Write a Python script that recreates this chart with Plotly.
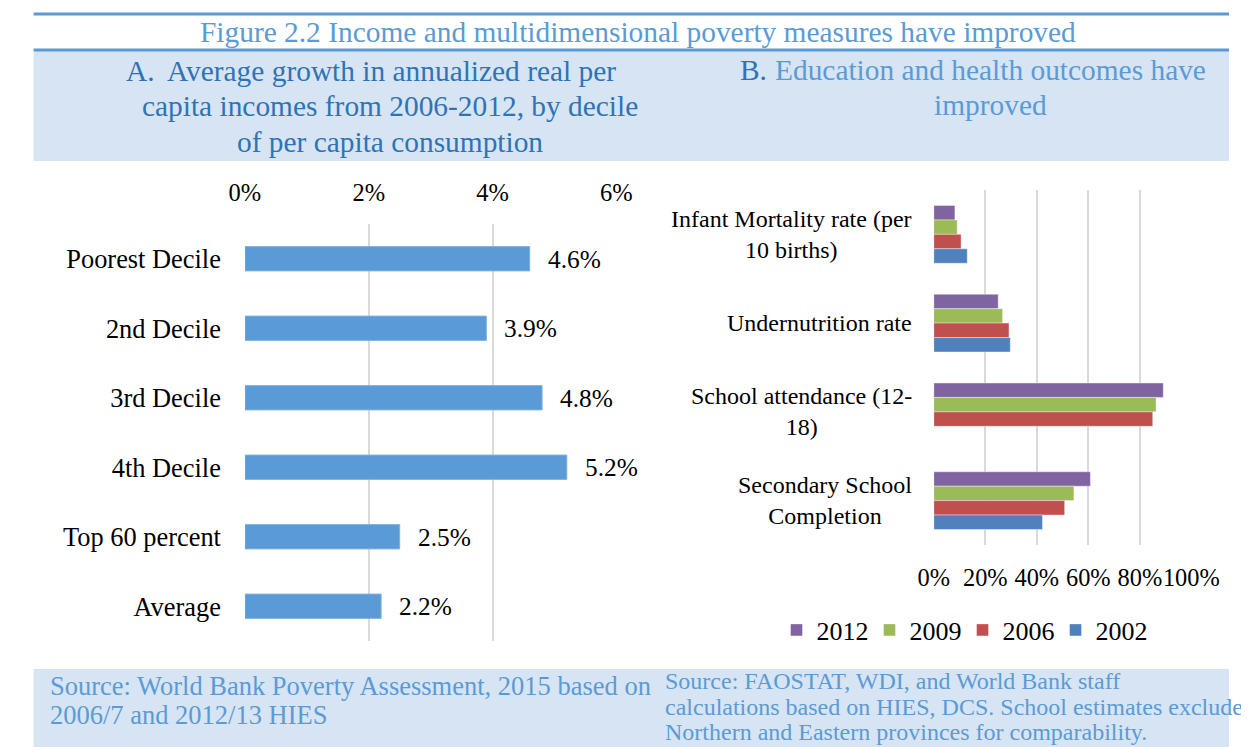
import plotly.graph_objects as go

W, H = 1249, 747

# panel A data
deciles = ["Poorest Decile", "2nd Decile", "3rd Decile", "4th Decile", "Top 60 percent", "Average"]
growth = [0.046, 0.039, 0.048, 0.052, 0.025, 0.022]

# panel B data
outcomes = ["Infant Mortality rate (per<br>10 births)", "Undernutrition rate",
            "School attendance (12-<br>18)", "Secondary School<br>Completion"]
years = ["2012", "2009", "2006", "2002"]
year_colors = ["#8064A2", "#9BBB59", "#C0504D", "#4F81BD"]
v2012 = [0.082, 0.250, 0.891, 0.608]
v2009 = [0.091, 0.267, 0.863, 0.544]
v2006 = [0.106, 0.292, 0.850, 0.508]
v2002 = [0.130, 0.297, None, 0.422]
series_b = [v2012, v2009, v2006, v2002]

SERIF = "Liberation Serif"
BLUE = "#5B9BD5"
DARK = "#2E74B5"
BAND = "#D6E4F3"

# page body margin pushes the plot down a little
TOP = 8


def px(x):
    return x / W


def py(y):
    return 1 - (y - TOP) / H


fig = go.Figure()

fig.add_trace(go.Bar(
    x=growth, y=deciles, orientation="h", width=0.35,
    marker=dict(color=BLUE, line=dict(color="#7FB2E0", width=1)),
    xaxis="x", yaxis="y", showlegend=False, hoverinfo="x+y",
))

for name, vals, col in zip(years, series_b, year_colors):
    fig.add_trace(go.Bar(
        x=vals, y=outcomes, orientation="h", name=name,
        marker=dict(color=col, line=dict(color="rgba(255,255,255,0.4)", width=1)),
        xaxis="x2", yaxis="y2",
    ))

fig.update_layout(
    width=W, height=H,
    margin=dict(l=0, r=0, t=0, b=0),
    paper_bgcolor="white", plot_bgcolor="white",
    barmode="group", bargap=0.35, bargroupgap=0,
    font=dict(family=SERIF, size=24, color="#000"),
    xaxis=dict(domain=[px(229), px(614)], range=[0, 0.06], dtick=0.02,
               tickformat=".0%", side="top", anchor="y", tickangle=0,
               showgrid=True, gridcolor="#D9D9D9", gridwidth=1.5,
               zeroline=False, showline=False, ticklabelstandoff=17,
               tickfont=dict(size=24.5)),
    yaxis=dict(domain=[py(641), py(224)], autorange="reversed", anchor="x",
               showgrid=False, zeroline=False, showline=False,
               ticklabelstandoff=23, tickfont=dict(size=26.4)),
    xaxis2=dict(domain=[px(943), px(1210)], range=[0, 1], dtick=0.2,
                tickformat=".0%", side="bottom", anchor="y2", tickangle=0,
                showgrid=True, gridcolor="#D9D9D9", gridwidth=1.5,
                zeroline=False, showline=False, ticklabelstandoff=16,
                tickfont=dict(size=24.4)),
    yaxis2=dict(domain=[py(545), py(190)], autorange="reversed", anchor="x2",
                showgrid=False, zeroline=False, showline=False,
                showticklabels=False),
    legend=dict(orientation="h", x=px(780), y=py(630), xanchor="left",
                yanchor="middle", font=dict(size=26), traceorder="normal",
                entrywidth=48, entrywidthmode="pixels",
                bgcolor="rgba(0,0,0,0)"),
)

shapes = [
    dict(type="rect", xref="paper", yref="paper", x0=px(10), x1=1,
         y0=py(161), y1=py(51), fillcolor=BAND, line=dict(width=0), layer="below"),
    dict(type="rect", xref="paper", yref="paper", x0=px(10), x1=1,
         y0=0, y1=py(669), fillcolor=BAND, line=dict(width=0), layer="below"),
    dict(type="line", xref="paper", yref="paper", x0=px(10), x1=1,
         y0=py(14), y1=py(14), line=dict(color=BLUE, width=3)),
    dict(type="line", xref="paper", yref="paper", x0=px(10), x1=1,
         y0=py(50), y1=py(50), line=dict(color=BLUE, width=3)),
]

ann = []


def txt(x, y, s, size, color, xanchor="center", align="center"):
    ann.append(dict(xref="paper", yref="paper", x=px(x), y=py(y), text=s,
                    showarrow=False, xanchor=xanchor, yanchor="middle",
                    align=align, font=dict(family=SERIF, size=size, color=color)))


txt(636, 32, "Figure 2.2 Income and multidimensional poverty measures have improved", 29.4, BLUE)
txt(104, 71, "A.", 29.4, DARK, xanchor="left")
txt(381, 71, "Average growth in annualized real per", 29.4, DARK)
txt(379, 106, "capita incomes from 2006-2012, by decile", 29.4, DARK)
txt(379, 142, "of per capita consumption", 29.4, DARK)
txt(740, 70, "B.", 29.4, DARK, xanchor="left")
txt(1002, 70, "Education and health outcomes have", 29.4, BLUE)
txt(1002, 105, "improved", 29.4, BLUE)

txt(25, 686, "Source: World Bank Poverty Assessment, 2015 based on", 26.5, BLUE, xanchor="left")
txt(25, 715, "2006/7 and 2012/13 HIES", 26.5, BLUE, xanchor="left")
txt(662, 681, "Source: FAOSTAT, WDI, and World Bank staff", 24, BLUE, xanchor="left")
txt(662, 707, "calculations based on HIES, DCS. School estimates exclude", 24, BLUE, xanchor="left")
txt(662, 732, "Northern and Eastern provinces for comparability.", 24, BLUE, xanchor="left")

# value labels next to the panel A bars
for d, g in zip(deciles, growth):
    ann.append(dict(xref="x", yref="y", x=g, y=d, text=f"{g * 100:.1f}%",
                    showarrow=False, xanchor="left", yanchor="middle", xshift=16,
                    font=dict(family=SERIF, size=25.4, color="#000")))

# panel B category labels, centred lines like the original
for cat in outcomes:
    ann.append(dict(xref="paper", yref="y2", x=px(923), y=cat, text=cat,
                    showarrow=False, xanchor="right", yanchor="middle",
                    align="center", font=dict(family=SERIF, size=24, color="#000")))

fig.update_layout(shapes=shapes, annotations=ann)

fig.write_html("out.html")
